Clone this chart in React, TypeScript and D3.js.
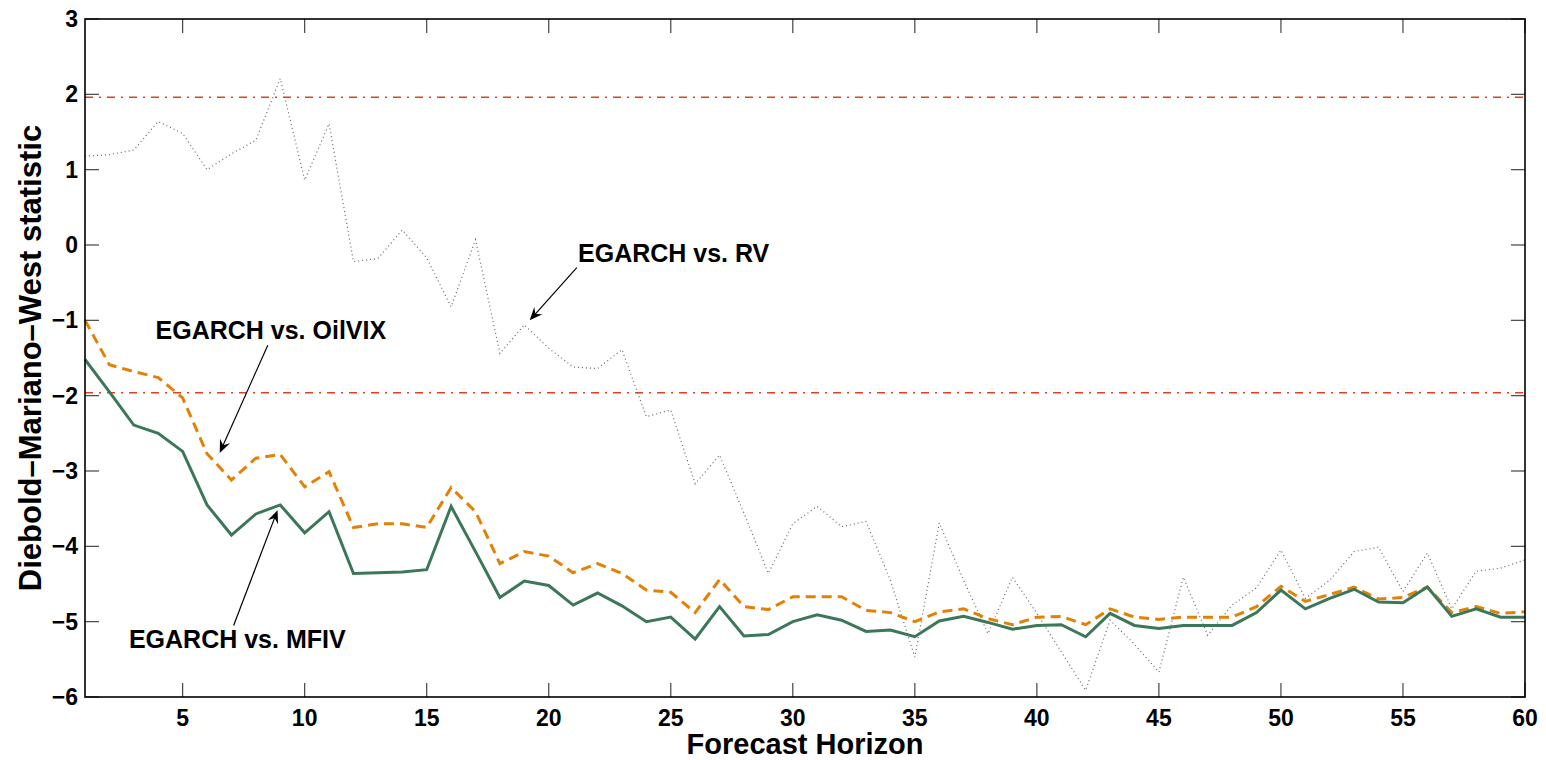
import * as d3 from 'd3';
import { useMemo } from 'react';

// forecast horizons (days ahead)
const horizons = d3.range(1, 61);

// Diebold-Mariano-West statistics
const mfiv = [
  -1.52, -1.95, -2.39, -2.5, -2.74, -3.45, -3.85, -3.57, -3.45, -3.82,
  -3.54, -4.36, -4.35, -4.34, -4.31, -3.47, -4.07, -4.68, -4.46, -4.52,
  -4.78, -4.62, -4.79, -5.0, -4.94, -5.23, -4.8, -5.19, -5.17, -5.0,
  -4.91, -4.98, -5.13, -5.11, -5.2, -4.99, -4.93, -5.01, -5.1, -5.05,
  -5.04, -5.2, -4.89, -5.05, -5.09, -5.05, -5.05, -5.05, -4.88, -4.58,
  -4.83, -4.69, -4.57, -4.74, -4.75, -4.54, -4.93, -4.83, -4.94, -4.94,
];

const oilvix = [
  -1.0, -1.59, -1.68, -1.76, -2.03, -2.77, -3.12, -2.83, -2.78, -3.21,
  -3.01, -3.75, -3.7, -3.7, -3.75, -3.22, -3.54, -4.23, -4.07, -4.13,
  -4.35, -4.23, -4.36, -4.58, -4.61, -4.88, -4.44, -4.8, -4.84, -4.67,
  -4.67, -4.67, -4.85, -4.88, -5.0, -4.87, -4.83, -4.96, -5.04, -4.94,
  -4.93, -5.04, -4.83, -4.94, -4.97, -4.94, -4.94, -4.94, -4.8, -4.53,
  -4.73, -4.64, -4.54, -4.7, -4.68, -4.54, -4.88, -4.8, -4.89, -4.87,
];

const rv = [
  1.18, 1.2, 1.26, 1.64, 1.48, 1.0, 1.21, 1.39, 2.21, 0.86,
  1.61, -0.22, -0.18, 0.2, -0.17, -0.82, 0.07, -1.44, -1.06, -1.37,
  -1.62, -1.64, -1.39, -2.28, -2.19, -3.17, -2.79, -3.56, -4.36, -3.7,
  -3.47, -3.74, -3.67, -4.45, -5.47, -3.69, -4.45, -5.16, -4.41, -4.89,
  -5.4, -5.91, -4.98, -5.3, -5.67, -4.41, -5.18, -4.78, -4.55, -4.05,
  -4.69, -4.45, -4.07, -4.01, -4.6, -4.09, -4.83, -4.33, -4.29, -4.18,
];

// 5% critical values
const criticalValues = [1.96, -1.96];

const xTicks = [5, 10, 15, 20, 25, 30, 35, 40, 45, 50, 55, 60];
const yTicks = [-6, -5, -4, -3, -2, -1, 0, 1, 2, 3];

// annotation labels with arrow tail/tip in data units
const labels = ['EGARCH vs. RV', 'EGARCH vs. OilVIX', 'EGARCH vs. MFIV'];
const labelPos = [[21.2, -0.23], [3.89, -1.25], [2.8, -5.35]];
const arrowTail = [[21.15, -0.3], [8.49, -1.33], [7.09, -5.05]];
const arrowTip = [[19.22, -1.0], [6.52, -2.76], [8.89, -3.52]];

const width = 1546;
const height = 760;
const margin = { top: 19, right: 21, bottom: 63, left: 85 };
const font = '"Liberation Sans", Arial, Helvetica, sans-serif';

function arrowHead(x: number, y: number, angle: number) {
  const L = 13;
  const W = 5.5;
  const pts = [
    [0, 0],
    [-L, -W],
    [-L * 0.65, 0],
    [-L, W],
  ].map(([px, py]) => [
    x + px * Math.cos(angle) - py * Math.sin(angle),
    y + px * Math.sin(angle) + py * Math.cos(angle),
  ]);
  return 'M' + pts.map((p) => p.join(',')).join('L') + 'Z';
}

export default function App() {
  const { x, y, paths } = useMemo(() => {
    const x = d3
      .scaleLinear()
      .domain([1, 60])
      .range([margin.left, width - margin.right]);
    const y = d3
      .scaleLinear()
      .domain([-6, 3])
      .range([height - margin.bottom, margin.top]);
    const line = d3
      .line<number>()
      .x((_, i) => x(horizons[i]))
      .y((d) => y(d));
    return {
      x,
      y,
      paths: { rv: line(rv) ?? '', oilvix: line(oilvix) ?? '', mfiv: line(mfiv) ?? '' },
    };
  }, []);

  const x0 = x(1);
  const x1 = x(60);
  const y0 = y(-6);
  const y1 = y(3);
  const tickLen = 14;

  return (
    <svg
      width={width}
      height={height}
      style={{ position: 'absolute', left: 0, top: 0, background: '#fff' }}
      fontFamily={font}
    >
      {/* critical value lines */}
      {criticalValues.map((c) => (
        <line
          key={c}
          x1={x0}
          x2={x1}
          y1={y(c)}
          y2={y(c)}
          stroke="#e2401e"
          strokeWidth={1.5}
          strokeDasharray="8,6,2,6"
        />
      ))}

      <path d={paths.rv} fill="none" stroke="#666" strokeWidth={1.2} strokeDasharray="1,3" />
      <path d={paths.oilvix} fill="none" stroke="#e38006" strokeWidth={3} strokeDasharray="10,6" />
      <path d={paths.mfiv} fill="none" stroke="#3b7758" strokeWidth={3} />

      {/* ticks */}
      {xTicks.map((t) => (
        <g key={t} stroke="#444" strokeWidth={1.2}>
          <line x1={x(t)} x2={x(t)} y1={y0} y2={y0 - tickLen} />
          <line x1={x(t)} x2={x(t)} y1={y1} y2={y1 + tickLen} />
        </g>
      ))}
      {yTicks.map((t) => (
        <g key={t} stroke="#444" strokeWidth={1.2}>
          <line x1={x0} x2={x0 + tickLen} y1={y(t)} y2={y(t)} />
          <line x1={x1} x2={x1 - tickLen} y1={y(t)} y2={y(t)} />
        </g>
      ))}

      {/* axes box */}
      <rect x={x0} y={y1} width={x1 - x0} height={y0 - y1} fill="none" stroke="#000" strokeWidth={1.6} />

      {/* tick labels */}
      {xTicks.map((t) => (
        <text key={t} x={x(t)} y={y0 + 29} textAnchor="middle" fontSize={23} fontWeight="bold">
          {t}
        </text>
      ))}
      {yTicks.map((t) => (
        <text key={t} x={x0 - 7} y={y(t) + 8} textAnchor="end" fontSize={23} fontWeight="bold">
          {d3.format('')(t)}
        </text>
      ))}

      {/* axis titles */}
      <text x={(x0 + x1) / 2} y={754} textAnchor="middle" fontSize={29} fontWeight="bold">
        Forecast Horizon
      </text>
      <text
        transform={`translate(41,${(y0 + y1) / 2}) rotate(-90)`}
        textAnchor="middle"
        fontSize={31}
        fontWeight="bold"
      >
        Diebold–Mariano–West statistic
      </text>

      {/* annotations */}
      {labels.map((l, i) => {
        const tx = x(arrowTail[i][0]);
        const ty = y(arrowTail[i][1]);
        const hx = x(arrowTip[i][0]);
        const hy = y(arrowTip[i][1]);
        const ang = Math.atan2(hy - ty, hx - tx);
        return (
          <g key={l}>
            <line x1={tx} y1={ty} x2={hx - 8 * Math.cos(ang)} y2={hy - 8 * Math.sin(ang)} stroke="#000" strokeWidth={1.2} />
            <path d={arrowHead(hx, hy, ang)} fill="#000" />
            <text x={x(labelPos[i][0])} y={y(labelPos[i][1])} fontSize={25} fontWeight="bold">
              {l}
            </text>
          </g>
        );
      })}
    </svg>
  );
}
